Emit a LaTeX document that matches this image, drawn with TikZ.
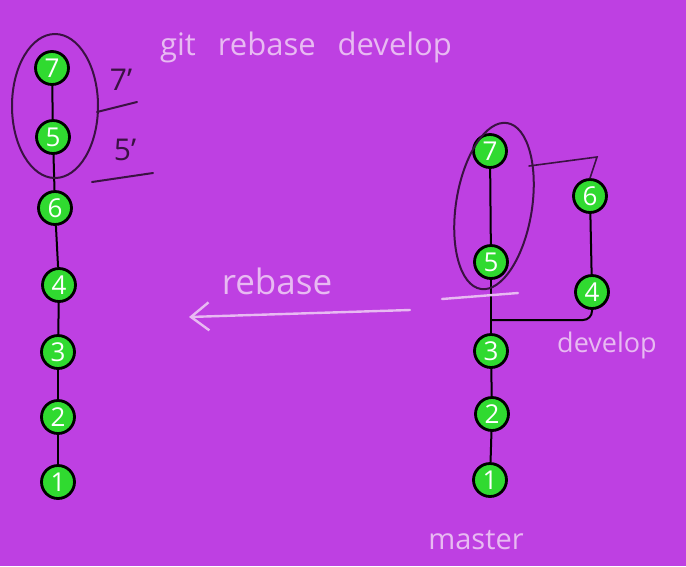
\documentclass[tikz,border=0pt]{standalone}
\usepackage{fontspec}
\setmainfont{Open Sans}
\usetikzlibrary{arrows.meta}
\definecolor{bgpurple}{RGB}{190,64,226}
\definecolor{nodegreen}{RGB}{48,218,48}
\definecolor{inkdark}{RGB}{58,18,66}
\definecolor{chalk}{RGB}{232,186,242}
\tikzset{
  commit/.style={circle, draw=black, line width=2.8pt, fill=nodegreen, minimum size=33pt, inner sep=0pt, text=white, font=\fontsize{26}{26}\selectfont, text height=18.5pt, text depth=0pt},
  link/.style={draw=black, line width=2pt},
  ink/.style={draw=inkdark, line width=2pt, line cap=round},
  chalkline/.style={draw=chalk, line width=2.4pt, line cap=round},
  chalktext/.style={text=chalk, inner sep=0pt}
}
\begin{document}
\begin{tikzpicture}[x=1pt,y=-1pt]
\fill[bgpurple] (0,0) rectangle (686,566);
\useasboundingbox (0,0) rectangle (686,566);
% left column (after rebase)
\node[commit] (l7) at (52,68) {7};
\node[commit] (l5) at (53,137) {5};
\node[commit] (l6) at (55,208) {6};
\node[commit] (l4) at (59,285) {4};
\node[commit] (l3) at (58,352) {3};
\node[commit] (l2) at (58,417) {2};
\node[commit] (l1) at (58,482) {1};
\draw[link] (l7) -- (l5);
\draw[link] (l5) -- (l6);
\draw[link] (l6) -- (l4);
\draw[link] (l4) -- (l3);
\draw[link] (l3) -- (l2);
\draw[link] (l2) -- (l1);
\draw[ink] (55,106) ellipse [x radius=43pt, y radius=72pt];
\node[text=inkdark, font=\fontsize{30}{30}\selectfont] (p7) at (121,80) {7'};
\node[text=inkdark, font=\fontsize{30}{30}\selectfont] (p5) at (125,150) {5'};
\coordinate (u7a) at (97,112); \coordinate (u7b) at (137,102);
\coordinate (u5a) at (92,182); \coordinate (u5b) at (153,173);
\draw[ink] (u7a) -- (u7b);
\draw[ink] (u5a) -- (u5b);
% title
\node[chalktext, font=\fontsize{31}{31}\selectfont] (title) at (306,47) {git\hspace{22pt}rebase\hspace{22pt}develop};
% right side (before rebase)
\node[commit] (r7) at (490,151) {7};
\node[commit] (r5) at (491,262) {5};
\node[commit] (r3) at (491,351) {3};
\node[commit] (r2) at (492,414) {2};
\node[commit] (r1) at (490,480) {1};
\node[commit] (r6) at (590,196) {6};
\node[commit] (r4) at (592,292) {4};
\coordinate (rj) at (491,320);
\draw[link] (r7) -- (r5);
\draw[link] (r5) -- (r3);
\draw[link] (r3) -- (r2);
\draw[link] (r2) -- (r1);
\draw[link] (r6) -- (r4);
\draw[link, rounded corners=9pt] (r4.south) |- (rj);
\draw[ink, rotate around={-9:(494,206)}] (494,206) ellipse [x radius=38pt, y radius=84pt];
\coordinate (b1) at (529,166); \coordinate (b2) at (597,157);
\draw[ink, line width=1.6pt] (b1) -- (b2) -- (r6.north);
\coordinate (m1) at (442,299); \coordinate (m2) at (518,293);
\draw[chalkline] (m1) -- (m2);
% rebase arrow
\node[chalktext, font=\fontsize{35}{35}\selectfont] (rb) at (277,281) {rebase};
\coordinate (a1) at (410,310); \coordinate (a2) at (189,317);
\draw[chalkline, -{Straight Barb[length=18pt,width=28pt,line width=2.4pt]}] (a1) -- (a2);
% labels
\node[chalktext, font=\fontsize{27}{27}\selectfont] (dev) at (607,345) {develop};
\node[chalktext, font=\fontsize{29}{29}\selectfont] (mas) at (476,540) {master};
\end{tikzpicture}
\end{document}
